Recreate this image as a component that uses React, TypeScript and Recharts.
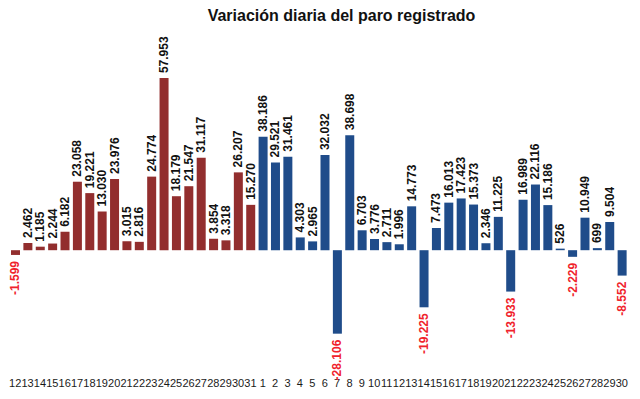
import { BarChart, Bar, XAxis, YAxis, Cell, LabelList } from "recharts";

const MAR_DAYS = [12, 13, 14, 15, 16, 17, 18, 19, 20, 21, 22, 23, 24, 25, 26, 27, 28, 29, 30, 31];
const MAR_VALUES = [
  -1599, 2462, 1185, 2244, 6182, 23058, 19221, 13030, 23976, 3015,
  2816, 24774, 57953, 18179, 21547, 31117, 3854, 3318, 26207, 15270,
];

const APR_DAYS = [
  1, 2, 3, 4, 5, 6, 7, 8, 9, 10, 11, 12, 13, 14, 15,
  16, 17, 18, 19, 20, 21, 22, 23, 24, 25, 26, 27, 28, 29, 30,
];
const APR_VALUES = [
  38186, 29521, 31461, 4303, 2965, 32032, -28106, 38698, 6703, 3776,
  2711, 1996, 14773, -19225, 7473, 16013, 17423, 15373, 2346, 11225,
  -13933, 16989, 22116, 15186, 526, -2229, 10949, 699, 9504, -8552,
];

const RED = "#922e2e";
const BLUE = "#1f4c8a";
const NEG_TEXT = "#f0222b";
const FONT = "'Liberation Sans', Arial, sans-serif";

const data = [
  ...MAR_DAYS.map((d, i) => ({ key: `mar-${d}`, month: "mar", value: MAR_VALUES[i] })),
  ...APR_DAYS.map((d, i) => ({ key: `abr-${d}`, month: "abr", value: APR_VALUES[i] })),
];

function fmt(v: number) {
  const s = Math.abs(v).toString().replace(/\B(?=(\d{3})+(?!\d))/g, ".");
  return v < 0 ? `-${s}` : s;
}

function BarLabel(props: any) {
  const { x, y, width, height, value } = props;
  const cx = Number(x) + Number(width) / 2;
  const y1 = Number(y);
  const y2 = Number(y) + Number(height);
  const top = Math.min(y1, y2);
  const bottom = Math.max(y1, y2);
  if (value >= 0) {
    const ty = top - 5;
    return (
      <text
        x={cx}
        y={ty}
        transform={`rotate(-90 ${cx} ${ty})`}
        textAnchor="start"
        dominantBaseline="central"
        fontSize={12}
        fontWeight="bold"
        fontFamily={FONT}
        fill="#111"
      >
        {fmt(value)}
      </text>
    );
  }
  const ty = bottom + 6;
  return (
    <text
      x={cx}
      y={ty}
      transform={`rotate(-90 ${cx} ${ty})`}
      textAnchor="end"
      dominantBaseline="central"
      fontSize={12}
      fontWeight="bold"
      fontFamily={FONT}
      fill={NEG_TEXT}
    >
      {fmt(value)}
    </text>
  );
}

export default function App() {
  return (
    <div
      style={{
        position: "fixed",
        left: 0,
        top: 0,
        width: 640,
        height: 399,
        background: "#fff",
        fontFamily: FONT,
      }}
    >
      <div
        style={{
          position: "absolute",
          left: 0,
          top: 8,
          width: 683,
          textAlign: "center",
          fontSize: 16,
          lineHeight: "16px",
          fontWeight: "bold",
          color: "#111",
        }}
      >
        Variación diaria del paro registrado
      </div>
      <BarChart
        width={640}
        height={399}
        data={data}
        margin={{ top: 72, right: 12, bottom: 0, left: 9 }}
        barSize={9}
      >
        <XAxis
          dataKey="key"
          interval={0}
          axisLine={false}
          tickLine={false}
          height={30}
          tickMargin={4}
          tickFormatter={(k: string) => k.split("-")[1]}
          tick={{ fontSize: 11, fill: "#1a1a1a", fontFamily: FONT }}
        />
        <YAxis type="number" domain={[-40000, 60000]} hide />
        <Bar dataKey="value" isAnimationActive={false}>
          {data.map((d) => (
            <Cell key={d.key} fill={d.month === "mar" ? RED : BLUE} />
          ))}
          <LabelList dataKey="value" content={BarLabel} />
        </Bar>
      </BarChart>
    </div>
  );
}
